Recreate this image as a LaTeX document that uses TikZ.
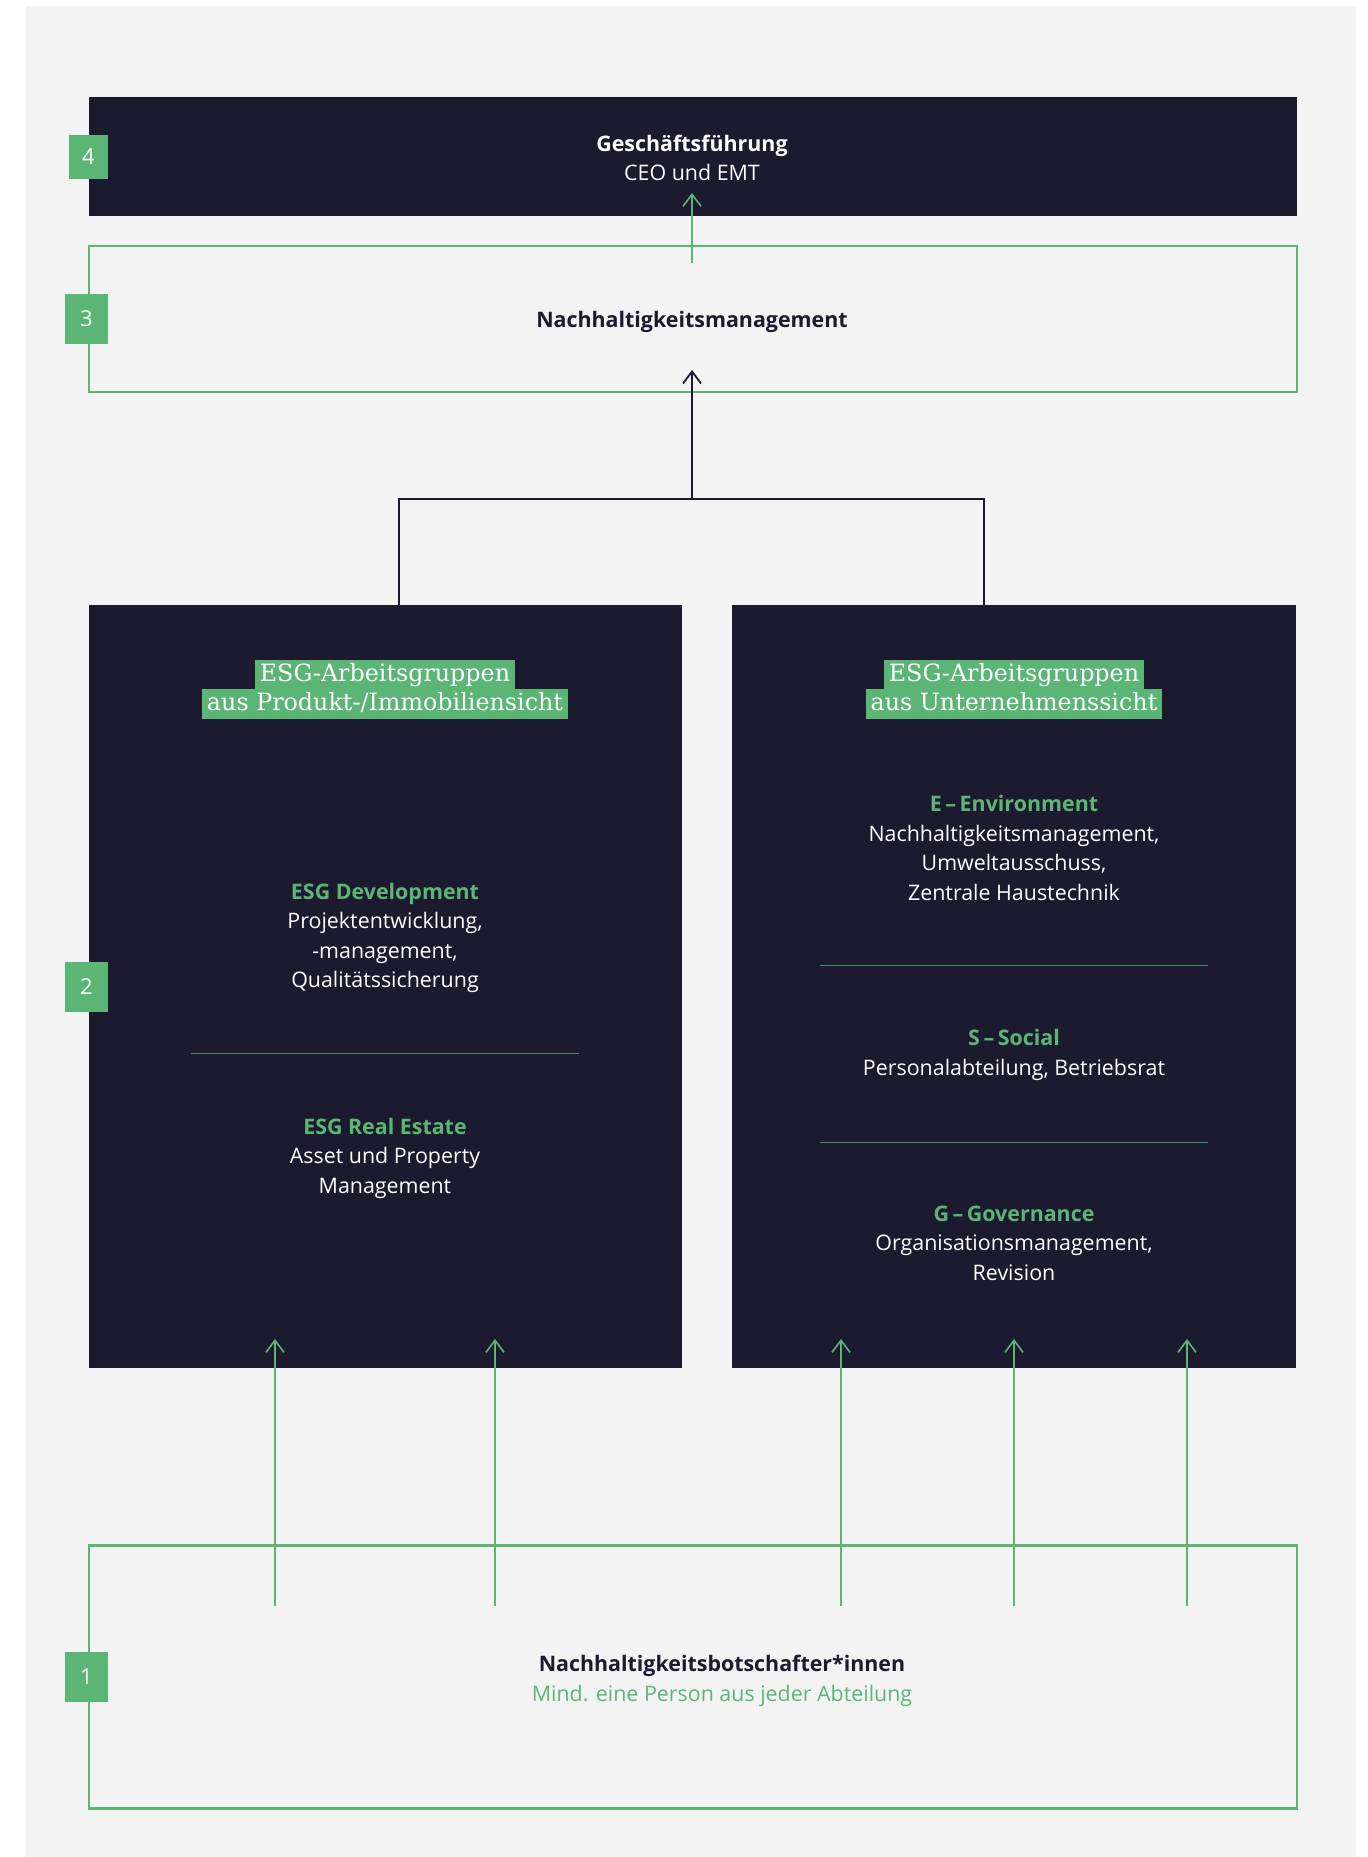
\documentclass[tikz,border=0pt]{standalone}
\usepackage{fontspec}
\setmainfont{Open Sans}
\newfontfamily\slab{DejaVu Serif}
\usetikzlibrary{arrows.meta}
\definecolor{navy}{HTML}{1C1A2E}
\definecolor{esggreen}{HTML}{5BB675}
\definecolor{bggray}{HTML}{F3F3F3}
\newcommand{\bodyfont}{\fontsize{10.7}{14.75}\selectfont}
\tikzset{
  darkbox/.style={rectangle, fill=navy, draw=none, inner sep=0pt},
  greenbox/.style={rectangle, draw=esggreen, line width=1.25pt, inner sep=0pt},
  numlabel/.style={rectangle, fill=esggreen, text=white, inner sep=0pt, font=\fontsize{11}{13}\selectfont},
  headbox/.style={rectangle, fill=esggreen, text=white, inner xsep=2.5pt, inner ysep=1.8pt,
    text height=9pt, text depth=2.8pt, font=\slab\fontsize{11.9}{13}\selectfont},
  bodytext/.style={align=center, font=\bodyfont, text=white, inner sep=0pt},
  garrow/.style={draw=esggreen, line width=0.8pt, -{Straight Barb[length=6pt,width=9pt]}},
  darrow/.style={draw=navy, line width=0.9pt, -{Straight Barb[length=6pt,width=9pt]}},
  divider/.style={draw=esggreen!75!navy, line width=0.5pt},
}
\begin{document}
\begin{tikzpicture}[x=0.5pt,y=-0.5pt]
\useasboundingbox (0,0) rectangle (1368,1857);
\fill[white] (0,0) rectangle (1368,1857);
\fill[bggray] (26,6) rectangle (1356,1857);

% boxes
\node[darkbox, minimum width=604pt, minimum height=59.5pt] (gf) at (693,156.5) {};
\node[greenbox, minimum width=604pt, minimum height=73pt] (nm) at (693,319) {};
\node[darkbox, minimum width=296.5pt, minimum height=381.5pt] (left) at (385.5,986.5) {};
\node[darkbox, minimum width=282pt, minimum height=381.5pt] (right) at (1014,986.5) {};
\node[greenbox, minimum width=604pt, minimum height=131.5pt] (bot) at (693,1677) {};

% number labels
\node[numlabel, minimum width=19.5pt, minimum height=22pt] (n4) at (88.5,157) {4};
\node[numlabel, minimum width=21.5pt, minimum height=25pt] (n3) at (86.5,319) {3};
\node[numlabel, minimum width=21.5pt, minimum height=25pt] (n2) at (86.5,987) {2};
\node[numlabel, minimum width=21.5pt, minimum height=25pt] (n1) at (86.5,1677) {1};

% top texts
\node[bodytext] (gftxt) at (692,158) {\textbf{Geschäftsführung}\\CEO und EMT};
\node[bodytext, text=navy] (nmtxt) at (692,322) {\textbf{Nachhaltigkeitsmanagement}};

% headers
\node[headbox] (lh1) at (385,675.5) {ESG-Arbeitsgruppen};
\node[headbox] (lh2) at (385,704) {aus Produkt-/Immobiliensicht};
\node[headbox] (rh1) at (1014,675.5) {ESG-Arbeitsgruppen};
\node[headbox] (rh2) at (1014,704) {aus Unternehmenssicht};

% left content
\node[bodytext] (dev) at (385,938) {{\color{esggreen}\textbf{ESG Development}}\\Projektentwicklung,\\-management,\\Qualitätssicherung};
\draw[divider] (191,1053) -- (579,1053);
\node[bodytext] (re) at (385,1158) {{\color{esggreen}\textbf{ESG Real Estate}}\\Asset und Property\\Management};

% right content
\node[bodytext] (env) at (1014,848) {{\color{esggreen}\textbf{E\,–\,Environment}}\\Nachhaltigkeitsmanagement,\\Umweltausschuss,\\Zentrale Haustechnik};
\draw[divider] (820,965) -- (1208,965);
\node[bodytext] (soc) at (1014,1055) {{\color{esggreen}\textbf{S\,–\,Social}}\\Personalabteilung, Betriebsrat};
\draw[divider] (820,1142) -- (1208,1142);
\node[bodytext] (gov) at (1014,1243) {{\color{esggreen}\textbf{G\,–\,Governance}}\\Organisationsmanagement,\\Revision};

% bottom text
\node[bodytext, text=esggreen] (bottxt) at (722,1681) {{\color{navy}\textbf{Nachhaltigkeitsbotschafter*innen}}\\Mind. eine Person aus jeder Abteilung};

% connectors
\coordinate (g3s) at (692,263);
\coordinate (g3e) at (692,193);
\draw[garrow] (g3s) -- (g3e);

\coordinate (bl) at (399,605);
\coordinate (br) at (984,605);
\coordinate (bm) at (692,499);
\coordinate (bt) at (692,370);
\draw[draw=navy, line width=0.9pt] (bl) |- (bm) -| (br);
\draw[darrow] (bm) -- (bt);

\foreach \i/\x in {1/275,2/495,3/841,4/1014,5/1187}{
  \coordinate (as\i) at (\x,1606);
  \coordinate (ae\i) at (\x,1339);
  \draw[garrow] (as\i) -- (ae\i);
}
\end{tikzpicture}
\end{document}
